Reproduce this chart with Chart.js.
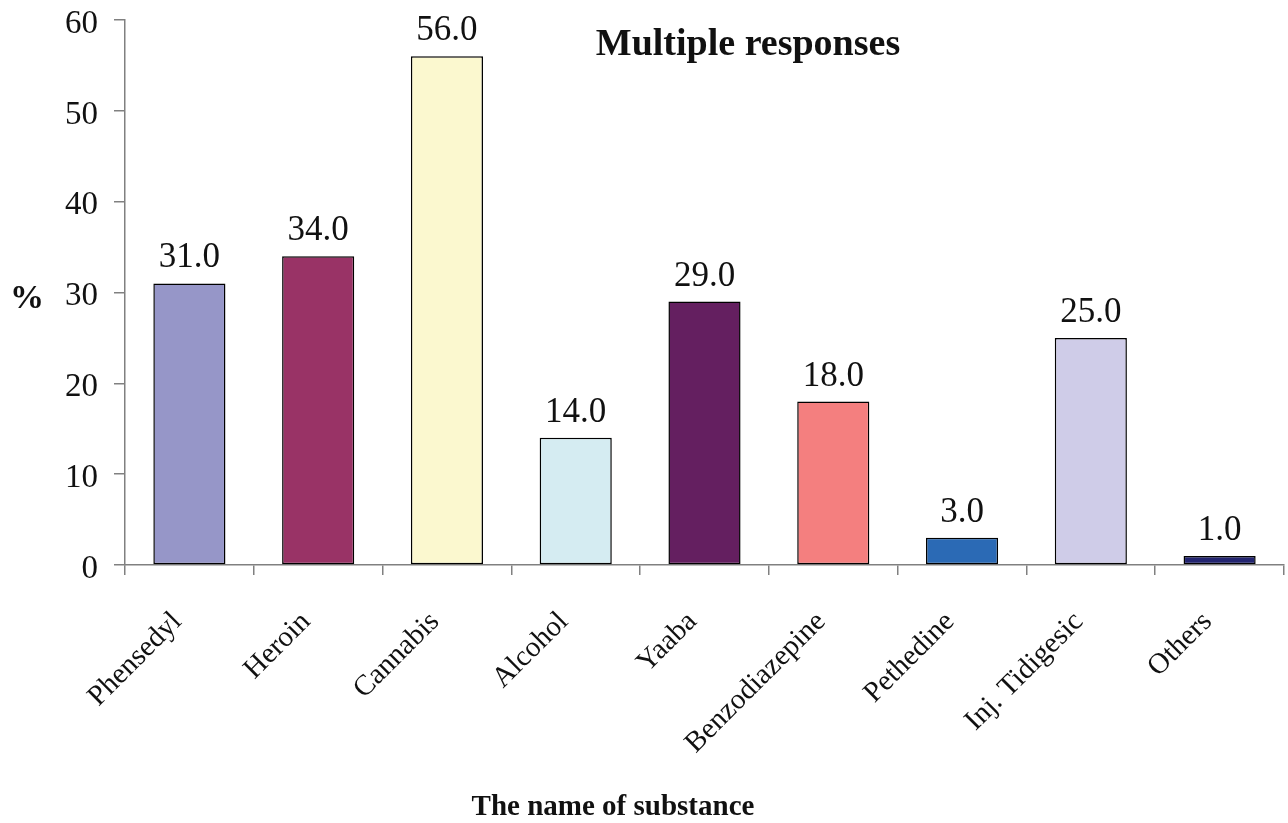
<!DOCTYPE html>
<html><head><meta charset="utf-8">
<script src="https://cdn.jsdelivr.net/npm/chart.js@4"></script>
<style>html,body{margin:0;padding:0;background:#fff}canvas{display:block}</style>
</head><body>
<canvas id="c" width="1288" height="823"></canvas>
<script>
const categories = ["Phensedyl","Heroin","Cannabis","Alcohol","Yaaba","Benzodiazepine","Pethedine","Inj. Tidigesic","Others"];
const values = [31.0, 34.0, 56.0, 14.0, 29.0, 18.0, 3.0, 25.0, 1.0];
const barColors = ["#9696c8","#993366","#fbf8cf","#d5ecf2","#641f60","#f47f7f","#2b6ab5","#cfcce8","#222470"];
const yTicks = [0,10,20,30,40,50,60];
const chartTitle = "Multiple responses";
const xTitle = "The name of substance";
const yTitle = "%";

const serif = "'Liberation Serif','Times New Roman',serif";

const overlay = {
  id: 'overlay',
  afterDatasetsDraw(chart) {
    const ctx = chart.ctx;
    const meta = chart.getDatasetMeta(0);
    ctx.save();
    ctx.fillStyle = '#111';
    ctx.font = "35px " + serif;
    ctx.textAlign = 'center';
    ctx.textBaseline = 'alphabetic';
    meta.data.forEach((bar, i) => {
      ctx.fillText(values[i].toFixed(1), bar.x, bar.y - 16);
    });
    ctx.font = "bold 38px " + serif;
    ctx.textBaseline = 'middle';
    ctx.fillText(chartTitle, 748, 45);
    ctx.font = "bold 29px " + serif;
    ctx.fillText(xTitle, 613, 808);
    ctx.font = "bold 34px " + serif;
    ctx.fillText(yTitle, 27, 299);
    ctx.restore();
  }
};

new Chart(document.getElementById('c'), {
  type: 'bar',
  data: {
    labels: categories,
    datasets: [{
      data: values,
      backgroundColor: barColors,
      borderColor: '#000',
      borderWidth: 1.5,
      borderSkipped: false,
      categoryPercentage: 1.0,
      barPercentage: 0.56
    }]
  },
  options: {
    responsive: false,
    animation: false,
    events: [],
    layout: { padding: { top: 20, right: 4, left: 0, bottom: 0 } },
    plugins: { legend: { display: false }, tooltip: { enabled: false }, title: { display: false } },
    scales: {
      x: {
        offset: true,
        grid: { display: true, offset: true, drawOnChartArea: false, drawTicks: true, tickLength: 10, color: '#808080', lineWidth: 1.5 },
        border: { display: true, color: '#808080', width: 1.5 },
        ticks: { color: '#111', font: { family: serif, size: 29 }, maxRotation: 45, minRotation: 45, padding: 30, labelOffset: -12, autoSkip: false },
        afterFit(s) { s.height = 258; s.paddingLeft = 0; s.paddingRight = 0; }
      },
      y: {
        min: 0, max: 60,
        afterBuildTicks(s) { s.ticks = yTicks.map(v => ({ value: v })); },
        grid: { display: true, drawOnChartArea: false, drawTicks: true, tickLength: 11, color: '#808080', lineWidth: 1.5 },
        border: { display: true, color: '#808080', width: 1.5 },
        ticks: { color: '#111', font: { family: serif, size: 33 }, padding: 16, labelOffset: 4 },
        afterFit(s) { s.width = 125; s.paddingTop = 0; s.paddingBottom = 0; }
      }
    }
  },
  plugins: [overlay]
});
</script>
</body></html>
